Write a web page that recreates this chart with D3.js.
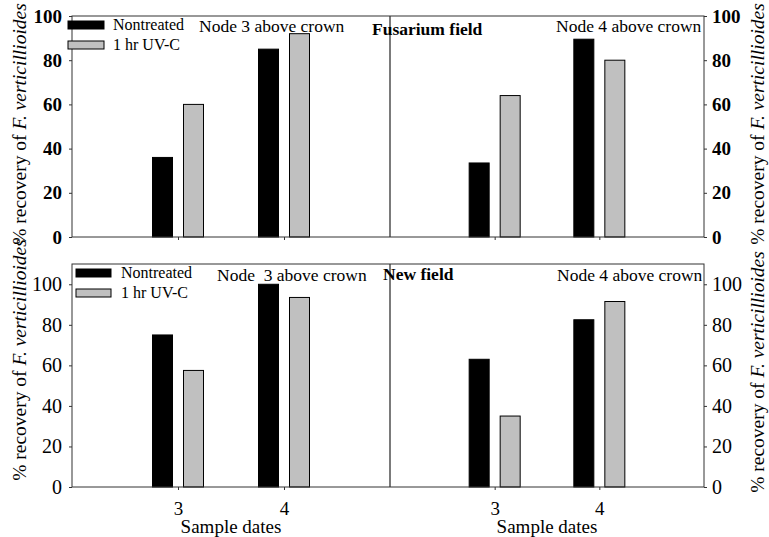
<!DOCTYPE html>
<html>
<head>
<meta charset="utf-8">
<script src="https://cdn.jsdelivr.net/npm/d3@7"></script>
<style>
  body { margin: 0; background: #fff; }
  text { font-family: "Liberation Serif", "Times New Roman", serif; }
</style>
</head>
<body>
<div id="chart"></div>
<script>
// data
const dates = [3, 4];
const seriesNames = ['Nontreated', '1 hr UV-C'];
const seriesColors = ['#000000', '#c0c0c0'];
const yTicks = [0, 20, 40, 60, 80, 100];

// Fusarium field
const fusNode3Nontreated = [36, 85];
const fusNode3UVC = [60, 92];
const fusNode4Nontreated = [33.5, 89.5];
const fusNode4UVC = [64, 80];

// New field
const newNode3Nontreated = [75, 100];
const newNode3UVC = [57.5, 93.5];
const newNode4Nontreated = [63, 82.5];
const newNode4UVC = [35, 91.5];

const svgWidth = 769;
const svgHeight = 537;
const svg = d3.select('#chart')
  .append('svg')
  .attr('width', svgWidth)
  .attr('height', svgHeight);

const xLeft = 72, xMid = 390, xRight = 704;
const barW = 20;
const axisColor = '#333';
const yTitle = '% recovery of ';

const panels = [
  {
    top: 16, bottom: 237, ymax: 100, bold: true, showX: false,
    node3: [fusNode3Nontreated, fusNode3UVC],
    node4: [fusNode4Nontreated, fusNode4UVC],
    node3Label: 'Node 3 above crown', node3X: 199, labelY: 32,
    fieldLabel: 'Fusarium field', fieldX: 372, fieldY: 35,
    node4X: 556,
    legend: { x: 68, y: 21, w: 36, h: 8, gap: 20, tx: 113, fs: 16 },
    titleLeftC: 124, titleRightC: 124
  },
  {
    top: 264, bottom: 487, ymax: 110, bold: false, showX: true,
    node3: [newNode3Nontreated, newNode3UVC],
    node4: [newNode4Nontreated, newNode4UVC],
    node3Label: 'Node  3 above crown', node3X: 217, labelY: 281,
    fieldLabel: 'New field', fieldX: 383, fieldY: 280,
    node4X: 557,
    legend: { x: 76, y: 269, w: 35, h: 8, gap: 20, tx: 121, fs: 16 },
    titleLeftC: 360, titleRightC: 372
  }
];

panels.forEach(p => {
  const y = d3.scaleLinear().domain([0, p.ymax]).range([p.bottom, p.top]);
  const xL = d3.scaleLinear().domain([2, 5]).range([xLeft, xMid]);
  const xR = d3.scaleLinear().domain([2, 5]).range([xMid, xRight]);
  const g = svg.append('g');

  // bars
  [[xL, p.node3], [xR, p.node4]].forEach(([x, series]) => {
    series.forEach((vals, si) => {
      g.selectAll(null)
        .data(vals.map((v, i) => ({ date: dates[i], v })))
        .enter()
        .append('rect')
        .attr('x', d => si === 0 ? x(d.date) - 25.5 : x(d.date) + 5.5)
        .attr('y', d => y(d.v))
        .attr('width', barW)
        .attr('height', d => y(0) - y(d.v))
        .attr('fill', seriesColors[si])
        .attr('stroke', '#000')
        .attr('stroke-width', 1);
    });
  });

  // frame and divider
  g.append('rect')
    .attr('x', xLeft).attr('y', p.top)
    .attr('width', xRight - xLeft).attr('height', p.bottom - p.top)
    .attr('fill', 'none').attr('stroke', axisColor).attr('stroke-width', 1);
  g.append('line')
    .attr('x1', xMid).attr('x2', xMid)
    .attr('y1', p.top).attr('y2', p.bottom)
    .attr('stroke', axisColor).attr('stroke-width', 1.3);

  // y axes
  const fontW = p.bold ? 'bold' : 'normal';
  const fs = p.bold ? 19 : 20;
  const yl = g.append('g')
    .attr('transform', `translate(${xLeft},0)`)
    .call(d3.axisLeft(y).tickValues(yTicks).tickSize(3).tickPadding(7));
  const yr = g.append('g')
    .attr('transform', `translate(${xRight},0)`)
    .call(d3.axisRight(y).tickValues(yTicks).tickSize(3).tickPadding(5));
  [yl, yr].forEach(a => {
    a.select('.domain').remove();
    a.selectAll('line').attr('stroke', axisColor);
    a.selectAll('text')
      .attr('font-size', fs)
      .attr('font-weight', fontW)
      .attr('fill', '#000');
  });

  // x axes
  [xL, xR].forEach(x => {
    const ax = g.append('g')
      .attr('transform', `translate(0,${p.bottom})`)
      .call(d3.axisBottom(x).tickValues(dates).tickSize(3).tickPadding(12)
        .tickFormat(p.showX ? d3.format('d') : ''));
    ax.select('.domain').remove();
    ax.selectAll('line').attr('stroke', axisColor);
    ax.selectAll('text')
      .attr('font-size', 19)
      .attr('fill', '#000');
    if (p.showX) {
      g.append('text')
        .attr('x', (x(3) + x(4)) / 2)
        .attr('y', 533)
        .attr('text-anchor', 'middle')
        .attr('font-size', 19)
        .text('Sample dates');
    }
  });

  // panel labels
  g.append('text')
    .attr('x', p.node3X).attr('y', p.labelY)
    .attr('font-size', 17.5)
    .style('white-space', 'pre')
    .text(p.node3Label);
  g.append('text')
    .attr('x', p.node4X).attr('y', p.labelY)
    .attr('font-size', 17.5)
    .text('Node 4 above crown');
  g.append('text')
    .attr('x', p.fieldX).attr('y', p.fieldY)
    .attr('font-size', 17.5)
    .attr('font-weight', 'bold')
    .text(p.fieldLabel);

  // legend
  const lg = p.legend;
  seriesNames.forEach((name, i) => {
    g.append('rect')
      .attr('x', lg.x).attr('y', lg.y + i * lg.gap)
      .attr('width', lg.w).attr('height', lg.h)
      .attr('fill', seriesColors[i])
      .attr('stroke', '#000').attr('stroke-width', 1);
    g.append('text')
      .attr('x', lg.x + (lg.tx - lg.x)).attr('y', lg.y + i * lg.gap + 9)
      .attr('font-size', lg.fs)
      .text(name);
  });

  // y titles
  [[26, p.titleLeftC], [764, p.titleRightC]].forEach(([tx, ty]) => {
    const t = g.append('text')
      .attr('transform', `translate(${tx},${ty}) rotate(-90)`)
      .attr('text-anchor', 'middle')
      .attr('font-size', 19.5);
    t.append('tspan').text(yTitle);
    t.append('tspan').attr('font-style', 'italic').text('F. verticillioides');
  });
});
</script>
</body>
</html>
